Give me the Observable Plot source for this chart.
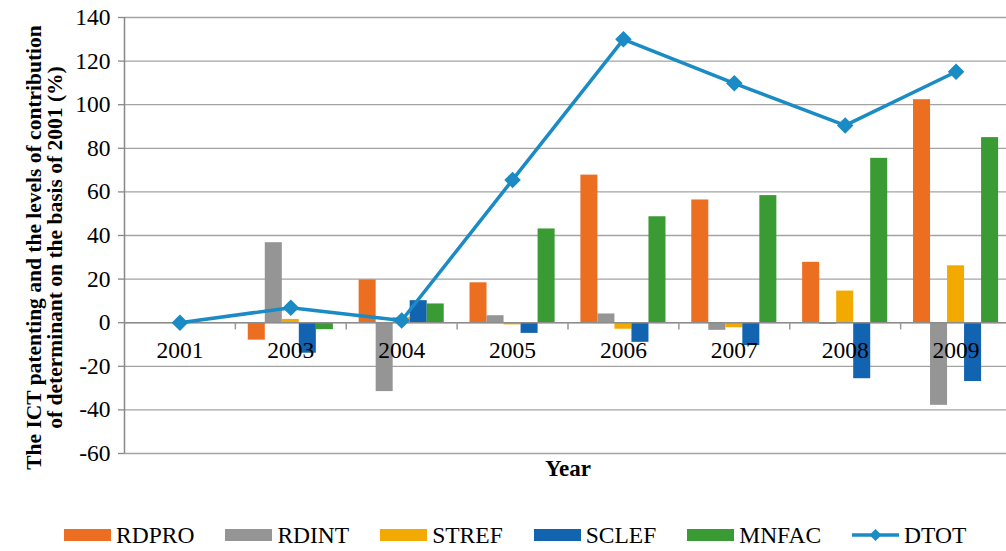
<!DOCTYPE html>
<html>
<head>
<meta charset="utf-8">
<script src="https://cdn.jsdelivr.net/npm/d3@7"></script>
<script src="https://cdn.jsdelivr.net/npm/@observablehq/plot@0.6"></script>
<style>
  html, body { margin: 0; padding: 0; background: white; overflow: hidden; }
  #chart { width: 1006px; }
  .legend { display: flex; align-items: center; margin-top: 33px; padding-left: 64px; height: 24px;
            font-family: "Liberation Serif", "Times New Roman", serif; font-size: 23.5px; color: #000; }
  .item { display: flex; align-items: center; margin-right: 31px; }
  .sw { width: 47px; height: 12px; margin-right: 5px; }
  .lsw { width: 47px; height: 14px; margin-right: 5px; }
</style>
</head>
<body>
<div id="chart"></div>
<script>
const years = ["2001", "2003", "2004", "2005", "2006", "2007", "2008", "2009"];
const seriesNames = ["RDPRO", "RDINT", "STREF", "SCLEF", "MNFAC"];
const RDPRO = [0, -8, 19.6, 18.3, 67.7, 56.3, 27.7, 102.3];
const RDINT = [0, 36.7, -31.6, 3.2, 4, -3.5, -0.8, -37.9];
const STREF = [0, 1.5, 2.4, -1, -3, -2.3, 14.5, 26.1];
const SCLEF = [0, -14, 10.1, -4.9, -9, -10.5, -25.7, -27];
const MNFAC = [0, -3.2, 8.6, 43, 48.6, 58.3, 75.4, 84.9];
const DTOT = [0, 6.9, 1, 65.5, 130, 109.8, 90.5, 115.1];
const yTicks = [-60, -40, -20, 0, 20, 40, 60, 80, 100, 120, 140];
const colors = ["#EC6E21", "#959595", "#F3AA00", "#1263B0", "#3A9A33"];
const lineColor = "#1A8BC4";
const yTitle = "The ICT patenting and the levels of contribution\nof determinant on the basis of 2001 (%)";

const seriesValues = [RDPRO, RDINT, STREF, SCLEF, MNFAC];
const barW = 0.1535; // bar width as a fraction of one year band
const rows = [];
seriesValues.forEach((vals, si) => {
  vals.forEach((v, yi) => rows.push({year: years[yi], yi, series: seriesNames[si], si, value: v}));
});
const boundaries = years.slice(1).map((d, i) => i + 0.5);

const font = '"Liberation Serif", "Times New Roman", serif';

const chart = Plot.plot({
  width: 1006,
  height: 490,
  marginTop: 17,
  marginBottom: 37,
  marginLeft: 124,
  marginRight: -5,
  style: {fontFamily: font, fontSize: "23.5px", color: "#000", background: "white"},
  x: {domain: [-0.5, years.length - 0.5], axis: null},
  y: {domain: [-60, 140]},
  color: {domain: seriesNames, range: colors},
  marks: [
    Plot.gridY(yTicks, {stroke: "#a3a3a3", strokeOpacity: 1, strokeWidth: 1.3}),
    Plot.axisY(yTicks, {tickSize: 6, tickPadding: 8, stroke: "#888", strokeWidth: 1.3, label: null,
                        tickFormat: d => String(d), fontFamily: font, fontSize: 23.5}),
    Plot.ruleX([-0.5], {stroke: "#888", strokeWidth: 1.5}),
    Plot.rectY(rows, {
      x1: d => d.yi + (d.si - 2.5) * barW,
      x2: d => d.yi + (d.si - 1.5) * barW,
      y: "value",
      fill: "series"
    }),
    Plot.ruleY([0], {stroke: "#8c8c8c", strokeWidth: 1.5}),
    Plot.ruleX(boundaries, {y1: 0, y2: -3.3, stroke: "#999", strokeWidth: 1.5}),
    Plot.text(years, {x: (d, i) => i, y: 0, dy: 28, text: d => d, fill: "#000", fontSize: 23.5, fontFamily: font}),
    Plot.line(DTOT, {x: (d, i) => i, y: d => d, stroke: lineColor, strokeWidth: 3.5}),
    Plot.dot(DTOT, {x: (d, i) => i, y: d => d, symbol: "diamond2", r: 6.5, fill: lineColor, stroke: lineColor}),
    Plot.text(["Year"], {frameAnchor: "bottom", dy: 22, text: d => d, fontWeight: "bold", fontSize: 23, fill: "#000", fontFamily: font}),
    Plot.text([yTitle], {frameAnchor: "left", textAnchor: "middle", lineAnchor: "middle", dx: -80, dy: 12, rotate: -90,
                         text: d => d, fontWeight: "bold", fontSize: 21.5, lineHeight: 1.0, fill: "#000", fontFamily: font})
  ]
});
document.getElementById("chart").appendChild(chart);

// legend
const legend = document.createElement("div");
legend.className = "legend";
seriesNames.forEach((name, i) => {
  const it = document.createElement("div");
  it.className = "item";
  it.innerHTML = `<div class="sw" style="background:${colors[i]}"></div><span>${name}</span>`;
  legend.appendChild(it);
});
const lineItem = document.createElement("div");
lineItem.className = "item";
lineItem.innerHTML = `<svg class="lsw" width="47" height="14" viewBox="0 0 47 14"><line x1="0" y1="7" x2="47" y2="7" stroke="${lineColor}" stroke-width="3.5"/><path d="M23.5 1 L29.5 7 L23.5 13 L17.5 7 Z" fill="${lineColor}"/></svg><span>DTOT</span>`;
legend.appendChild(lineItem);
document.getElementById("chart").appendChild(legend);
</script>
</body>
</html>
